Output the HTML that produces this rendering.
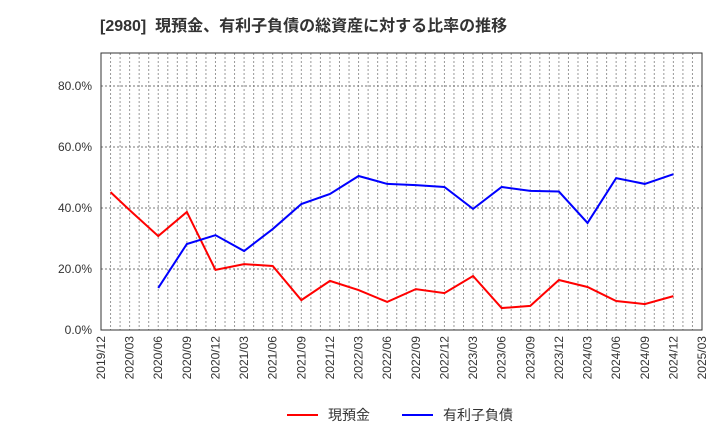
<!DOCTYPE html>
<html><head><meta charset="utf-8"><style>
body{margin:0;background:#fff;font-family:"Liberation Sans","Noto Sans CJK JP",sans-serif}
</style></head><body>
<svg width="720" height="440" id="c" xmlns="http://www.w3.org/2000/svg">
<text x="100" y="31" font-size="16" font-weight="bold" fill="#333" xml:space="preserve" style="white-space:pre">[2980]  現預金、有利子負債の総資産に対する比率の推移</text>
<g id="grid"></g><g id="axes"></g><g id="series"></g>
<g>
<line x1="287" y1="415" x2="318" y2="415" stroke="#f00" stroke-width="2"/>
<text x="328" y="420" font-size="14" fill="#333">現預金</text>
<line x1="402" y1="415" x2="433" y2="415" stroke="#00f" stroke-width="2"/>
<text x="443" y="420" font-size="14" fill="#333">有利子負債</text>
</g>
</svg>
<script>
const xLabels=["2019/12","2020/03","2020/06","2020/09","2020/12","2021/03","2021/06","2021/09","2021/12","2022/03","2022/06","2022/09","2022/12","2023/03","2023/06","2023/09","2023/12","2024/03","2024/06","2024/09","2024/12","2025/03"];
const yTicks=[0,0.2,0.4,0.6,0.8];
const cashMonths=[1,3,6,9,12,15,18,21,24,27,30,33,36,39,42,45,48,51,54,57,60];
const cashValues=[0.452,0.393,0.308,0.387,0.197,0.216,0.210,0.098,0.161,0.131,0.092,0.134,0.121,0.177,0.072,0.079,0.164,0.141,0.095,0.085,0.111];
const debtMonths=[6,9,12,15,18,21,24,27,30,33,36,39,42,45,48,51,54,57,60];
const debtValues=[0.138,0.282,0.311,0.259,0.331,0.413,0.446,0.505,0.479,0.475,0.469,0.397,0.469,0.456,0.454,0.351,0.498,0.479,0.511];
const L=101,R=702,T=53,B=330,NM=63,YMAX=(330-53)/305;
const sx=m=>L+(R-L)*m/NM, sy=v=>B-(B-T)*v/YMAX;
const NS="http://www.w3.org/2000/svg";
function mk(p,t,a){const e=document.createElementNS(NS,t);for(const k in a)e.setAttribute(k,a[k]);p.appendChild(e);return e;}
const g=document.getElementById('grid'),ax=document.getElementById('axes'),s=document.getElementById('series');
for(let m=1;m<NM;m++){const l=mk(g,'line',{x1:sx(m),x2:sx(m),y1:T,y2:B,stroke:'#999','stroke-width':1,'stroke-dasharray':'2,2'});

}
yTicks.forEach(v=>{if(v>0){const l=mk(g,'line',{x1:L,x2:R,y1:sy(v),y2:sy(v),stroke:'#777','stroke-width':1,'stroke-dasharray':'2,2'});

}
const t=mk(ax,'text',{x:L-9,y:sy(v)+4,'font-size':12,fill:'#333','text-anchor':'end'});t.textContent=(v*100).toFixed(1)+'%';

});
const fr=mk(ax,'rect',{x:L,y:T,width:R-L,height:B-T,fill:'none',stroke:'#333','stroke-width':1});


xLabels.forEach((lab,i)=>{const x=sx(i*3);const t=mk(ax,'text',{x:x+4,y:B+6,'font-size':12,fill:'#333','text-anchor':'end',transform:`rotate(-90 ${x+4} ${B+6})`});t.textContent=lab;

});
function line(ms,vs,c,n){const p=mk(s,'polyline',{points:ms.map((m,i)=>sx(m)+','+sy(vs[i])).join(' '),fill:'none',stroke:c,'stroke-width':2});

}
line(cashMonths,cashValues,'#f00','cash-line');
line(debtMonths,debtValues,'#00f','debt-line');
</script>
</body></html>
